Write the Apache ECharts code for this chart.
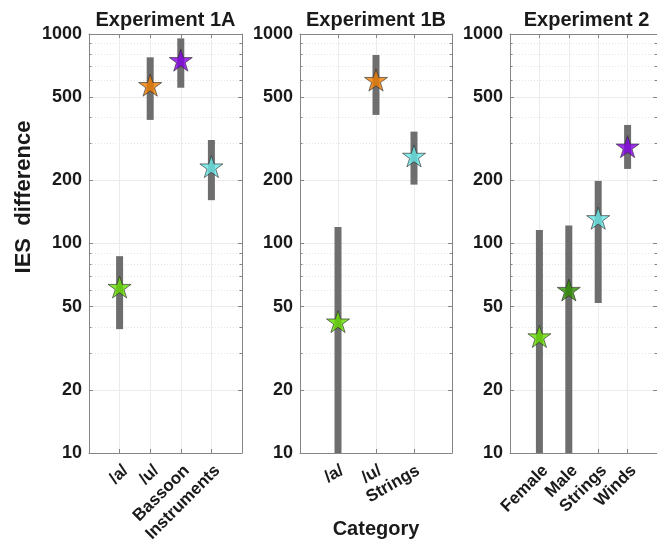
<!DOCTYPE html>
<html>
<head>
<meta charset="utf-8">
<script src="https://cdn.jsdelivr.net/npm/echarts@6/dist/echarts.min.js"></script>
<style>
html, body { margin: 0; padding: 0; background: #fff; }
#chart { width: 657px; height: 548px; }
</style>
</head>
<body>
<div id="chart"></div>
<script>
// data (IES difference, log scale)
const cats1 = ['/a/', '/u/', 'Bassoon', 'Instruments'];
const mean1 = [62, 570, 750, 233];
const lo1 = [39, 389, 554, 161];
const hi1 = [87, 774, 953, 312];

const cats2 = ['/a/', '/u/', 'Strings'];
const mean2 = [42.4, 603, 262];
const lo2 = [1, 411, 191];
const hi2 = [120, 794, 342];

const cats3 = ['Female', 'Male', 'Strings', 'Winds'];
const mean3 = [36, 60, 132, 290];
const lo3 = [1, 1, 52, 227];
const hi3 = [116, 122, 199, 368];

const yTicks = [10, 20, 50, 100, 200, 500, 1000];
const yMinor = [30, 40, 60, 70, 80, 90, 300, 400, 600, 700, 800, 900];

// colours
const GREEN = '#66dd00', ORANGE = '#ef7d00', PURPLE = '#8300e6', CYAN = '#66e6e6', DKGREEN = '#2f8f00';
const colors1 = [GREEN, ORANGE, PURPLE, CYAN];
const colors2 = [GREEN, ORANGE, CYAN];
const colors3 = [GREEN, DKGREEN, CYAN, PURPLE];

const FONT = 'Liberation Sans, Arial, sans-serif';
const TXT = '#1a1a1a';
const AXC = '#858585';

// pentagram marker
function starPath() {
  let d = '';
  for (let k = 0; k < 10; k++) {
    const r = k % 2 === 0 ? 1 : 0.382;
    const a = (-90 + k * 36) * Math.PI / 180;
    d += (k === 0 ? 'M' : 'L') + (r * Math.cos(a)).toFixed(4) + ' ' + (r * Math.sin(a)).toFixed(4) + ' ';
  }
  return 'path://' + d + 'Z';
}
const STAR = starPath();

const chart = echarts.init(document.getElementById('chart'));

const option = {
  animation: false,
  backgroundColor: '#fff',
  grid: [],
  xAxis: [],
  yAxis: [],
  series: [],
  graphic: [
    {
      type: 'text', x: 24, y: 197, rotation: Math.PI / 2,
      style: { text: 'IES  difference', font: 'bold 22px ' + FONT, fill: TXT, align: 'center', verticalAlign: 'middle' }
    },
    {
      type: 'text', x: 376, y: 529,
      style: { text: 'Category', font: 'bold 20px ' + FONT, fill: TXT, align: 'center', verticalAlign: 'middle' }
    }
  ]
};

function addPanel(idx, title, cats, mean, lo, hi, colors, left, width, rot) {
  const n = cats.length;
  const catPos = cats.map((c, i) => i + 1);
  option.graphic.push({
    type: 'text', x: left + width / 2, y: 20,
    style: { text: title, font: 'bold 20px ' + FONT, fill: TXT, align: 'center', verticalAlign: 'middle' }
  });
  option.grid.push({ left: left, top: 34, width: width, height: 419 });

  const xi = option.xAxis.length;
  option.xAxis.push({
    type: 'value', gridIndex: idx, min: 0, max: n + 1, interval: 1,
    axisLine: { show: true, lineStyle: { color: AXC } },
    axisTick: { show: true, inside: true, length: 4, customValues: catPos, lineStyle: { color: AXC } },
    axisLabel: {
      customValues: catPos, rotate: rot, margin: 9, verticalAlign: 'top',
      formatter: v => cats[v - 1] || '',
      fontFamily: FONT, fontWeight: 'bold', fontSize: 17, color: TXT
    },
    splitLine: { show: true, lineStyle: { color: '#ebebeb' } }
  });
  option.xAxis.push({
    type: 'value', gridIndex: idx, position: 'top', min: 0, max: n + 1,
    axisLine: { show: true, lineStyle: { color: AXC } },
    axisTick: { show: true, inside: true, length: 4, customValues: catPos, lineStyle: { color: AXC } },
    axisLabel: { show: false }, splitLine: { show: false }
  });

  const yi = option.yAxis.length;
  const yBase = { type: 'log', logBase: 10, gridIndex: idx, min: 10, max: 1000 };
  option.yAxis.push(Object.assign({}, yBase, {
    position: 'left',
    axisLine: { show: true, lineStyle: { color: AXC } },
    axisTick: { show: true, inside: true, length: 4, customValues: yTicks, lineStyle: { color: AXC } },
    axisLabel: {
      customValues: yTicks, margin: 7, formatter: v => String(v),
      fontFamily: FONT, fontWeight: 'bold', fontSize: 18, color: TXT
    },
    splitLine: { show: true, lineStyle: { color: '#ebebeb' } }
  }));
  option.yAxis.push(Object.assign({}, yBase, {
    position: 'left',
    axisLine: { show: false },
    axisTick: { show: true, inside: true, length: 2.5, customValues: yMinor, lineStyle: { color: AXC } },
    axisLabel: { show: false },
    splitLine: { show: true, lineStyle: { color: '#e6e6e6', type: [1, 2] } }
  }));
  option.yAxis.push(Object.assign({}, yBase, {
    position: 'right',
    axisLine: { show: true, lineStyle: { color: AXC } },
    axisTick: { show: true, inside: true, length: 4, customValues: yTicks, lineStyle: { color: AXC } },
    axisLabel: { show: false }, splitLine: { show: false }
  }));
  option.yAxis.push(Object.assign({}, yBase, {
    position: 'right',
    axisLine: { show: false },
    axisTick: { show: true, inside: true, length: 2.5, customValues: yMinor, lineStyle: { color: AXC } },
    axisLabel: { show: false }, splitLine: { show: false }
  }));

  // error bars
  option.series.push({
    type: 'custom', xAxisIndex: xi, yAxisIndex: yi,
    data: catPos.map((p, i) => [p, lo[i], hi[i]]),
    encode: { x: 0, y: [1, 2] },
    z: 2,
    renderItem: function (params, api) {
      const x = api.value(0);
      const top = api.coord([x, api.value(2)]);
      const bot = api.coord([x, api.value(1)]);
      const w = 7;
      const cs = params.coordSys;
      const shape = echarts.graphic.clipRectByRect(
        { x: top[0] - w / 2, y: top[1], width: w, height: bot[1] - top[1] },
        { x: cs.x, y: cs.y, width: cs.width, height: cs.height }
      );
      return shape && { type: 'rect', shape: shape, style: { fill: '#6e6e6e' } };
    }
  });
  // star markers
  option.series.push({
    type: 'scatter', xAxisIndex: xi, yAxisIndex: yi,
    symbol: STAR, symbolSize: [23, 22], z: 5,
    data: catPos.map((p, i) => ({
      value: [p, mean[i]],
      itemStyle: { color: colors[i], borderColor: '#2a2a2a', borderWidth: 0.8 }
    }))
  });
}

addPanel(0, 'Experiment 1A', cats1, mean1, lo1, hi1, colors1, 89, 153, 45);
addPanel(1, 'Experiment 1B', cats2, mean2, lo2, hi2, colors2, 300, 152, 30);
addPanel(2, 'Experiment 2', cats3, mean3, lo3, hi3, colors3, 510, 153, 45);

chart.setOption(option);
</script>
</body>
</html>
